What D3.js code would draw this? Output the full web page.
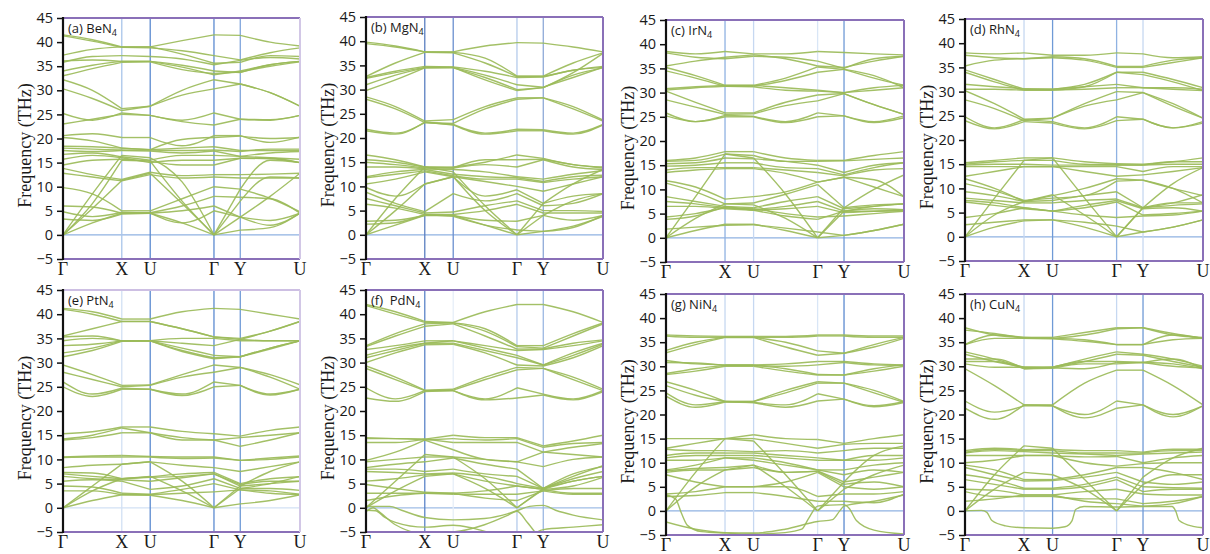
<!DOCTYPE html>
<html>
<head>
<meta charset="utf-8">
<script src="https://cdn.jsdelivr.net/npm/d3@7"></script>
<style>
  body { margin: 0; background: #fff; }
  svg { display: block; }
</style>
</head>
<body>
<svg id="chart" width="1210" height="554"></svg>
<script>
// High-symmetry path Γ–X–U–Γ–Y–U (normalised path length)
const kLabels = ["Γ", "X", "U", "Γ", "Y", "U"];
const kNodes = [0, 0.248, 0.368, 0.637, 0.748, 1.0];
// sample points of every band: Γ, mid Γ-X, X, U, mid U-Γ, Γ, Y, mid Y-U, U
const kKnots = [0, 0.124, 0.248, 0.368, 0.5025, 0.637, 0.748, 0.874, 1.0];
const yTicks = [-5, 0, 5, 10, 15, 20, 25, 30, 35, 40, 45];

// phonon frequencies (THz) at kKnots
const bandsBeN4 = [
  [41.5,40.5,39.0,39.0,40.3,41.5,41.4,40.0,39.2],
  [41.3,40.2,38.9,38.8,38.2,37.2,36.3,37.8,38.8],
  [37.3,38.5,39.0,39.0,37.5,35.6,35.8,37.2,37.0],
  [35.8,37.0,37.2,37.0,36.5,35.3,36.2,36.8,36.5],
  [36.1,36.3,36.0,36.0,35.2,34.0,33.7,35.3,36.0],
  [34.0,35.2,36.0,36.0,34.8,33.2,34.0,35.3,36.0],
  [33.0,34.5,35.8,35.9,34.3,33.5,33.8,35.0,35.9],
  [32.2,30.0,26.2,26.7,30.0,32.2,31.3,29.5,26.7],
  [30.3,28.3,25.8,26.7,29.0,30.3,31.3,29.5,26.7],
  [25.2,23.8,25.3,24.8,23.8,25.3,24.0,23.8,24.8],
  [23.0,24.0,25.0,24.8,23.5,22.8,24.0,23.9,24.8],
  [20.6,21.0,20.2,20.2,18.5,20.6,20.6,19.2,20.3],
  [20.2,19.5,18.0,17.7,19.8,20.2,20.5,20.0,20.2],
  [18.4,18.3,18.0,17.7,18.0,18.3,17.5,17.5,17.5],
  [18.0,17.8,17.6,17.6,17.5,17.6,17.3,17.8,17.8],
  [17.5,17.3,17.5,17.4,17.0,17.4,16.3,17.0,17.3],
  [16.7,17.0,16.2,15.5,16.5,16.5,16.3,16.0,15.7],
  [15.7,16.5,16.0,15.0,15.5,15.5,15.9,15.8,15.0],
  [14.5,15.5,15.7,15.3,14.5,14.5,15.9,15.9,15.0],
  [13.8,12.5,11.5,13.0,12.3,12.5,12.5,12.6,12.8],
  [12.8,12.0,11.2,12.5,11.8,12.0,11.8,11.8,11.8],
  [9.8,8.5,5.0,5.0,7.5,10.0,9.5,7.6,4.8],
  [6.0,5.8,4.5,4.6,6.0,8.0,7.8,7.5,4.5],
  [4.8,3.8,4.7,4.5,5.0,6.0,3.7,2.0,4.5],
  [3.3,3.0,4.3,4.5,2.5,5.0,3.7,3.0,4.5],
  [0,8.5,16.5,16.0,11.0,0,9.5,15.5,15.0],
  [0,6.5,15.5,15.3,7.0,0,7.0,12.0,11.8],
  [0,5.5,11.3,12.8,6.5,0,3.7,8.0,12.8],
  [0,2.5,4.5,4.5,2.5,0,1.0,1.5,4.5]
];

const bandsMgN4 = [
  [39.8,39.0,37.8,37.8,39.0,39.7,39.6,38.8,37.8],
  [39.5,38.8,37.8,37.7,36.5,32.8,32.8,35.5,37.6],
  [32.7,35.5,37.7,37.6,35.5,32.7,32.7,34.0,34.8],
  [32.5,33.8,34.8,34.7,33.8,32.5,32.6,34.0,34.6],
  [32.3,33.5,34.6,34.6,33.0,31.0,30.5,32.5,34.6],
  [31.0,33.0,34.5,34.5,32.5,30.0,30.4,33.0,34.5],
  [29.8,32.0,34.5,34.6,32.0,29.8,30.4,33.5,37.5],
  [28.5,26.5,23.5,23.8,26.5,28.3,28.3,26.5,23.7],
  [28.0,26.0,23.2,23.0,26.0,28.0,28.3,26.0,23.5],
  [21.8,21.0,23.2,22.8,21.0,21.8,21.7,21.0,22.8],
  [21.5,20.8,23.3,22.7,20.8,21.5,21.5,20.8,22.7],
  [16.5,15.5,14.0,14.0,15.0,16.5,15.8,14.5,14.0],
  [15.5,15.0,14.0,13.8,15.5,15.5,15.6,14.5,13.8],
  [15.0,14.5,13.8,13.8,14.5,14.0,15.5,14.0,13.5],
  [14.0,14.0,13.6,13.5,13.0,12.0,11.5,12.5,13.3],
  [12.0,13.0,13.5,12.5,12.0,11.8,11.0,12.0,12.3],
  [11.8,12.5,13.2,12.2,11.5,11.5,10.8,11.5,12.0],
  [10.5,11.5,13.0,12.0,11.0,10.0,9.0,10.5,12.0],
  [9.8,8.0,10.5,12.0,8.0,9.3,6.5,8.0,8.5],
  [8.8,6.5,4.8,8.5,7.0,8.5,6.0,6.5,8.5],
  [7.5,6.0,4.5,4.7,6.0,7.0,5.0,5.0,4.8],
  [6.3,5.5,4.2,4.2,5.0,6.3,4.5,4.5,4.5],
  [2.8,3.0,4.0,4.0,3.0,2.8,4.0,3.0,4.0],
  [2.2,2.5,4.2,3.8,2.0,1.0,0.7,1.8,3.8],
  [0,7.5,14.0,13.0,6.0,0,6.5,10.5,13.5],
  [0,5.0,10.5,12.0,5.0,0,4.0,7.0,8.5],
  [0,2.0,4.0,4.0,2.0,0,0.7,1.5,4.0]
];

const bandsIrN4 = [
  [38.5,38.0,38.5,38.0,38.0,38.5,38.3,38.0,37.8],
  [38.2,37.3,37.0,37.5,37.3,36.5,35.0,37.0,37.5],
  [35.5,36.5,37.3,37.8,37.0,35.5,35.2,36.5,37.5],
  [35.2,33.5,31.5,31.5,33.0,35.3,34.8,33.0,31.5],
  [34.5,33.0,31.3,31.3,32.5,34.2,34.8,33.5,31.0],
  [30.8,31.2,31.5,31.5,31.0,30.5,30.0,31.0,31.5],
  [30.5,31.0,31.3,31.2,30.5,30.3,30.0,30.5,31.0],
  [30.3,28.0,25.8,25.8,28.0,29.5,29.8,27.5,25.5],
  [28.5,27.0,25.5,25.6,27.3,28.3,29.8,27.5,25.5],
  [25.8,24.0,25.3,25.1,24.0,25.8,25.2,24.0,25.2],
  [25.2,24.0,25.0,25.0,23.8,25.0,25.2,23.8,24.8],
  [16.0,16.5,17.8,17.8,16.5,16.0,16.0,17.0,17.8],
  [15.8,16.0,17.3,17.0,15.8,15.8,15.9,16.2,16.5],
  [15.3,15.5,16.5,16.3,15.8,15.0,13.5,15.0,15.5],
  [14.8,15.0,15.5,15.5,14.5,14.3,13.0,14.5,15.5],
  [14.0,14.5,14.5,14.5,14.0,13.5,12.8,14.0,14.3],
  [13.5,14.0,14.3,14.3,13.3,11.5,12.5,12.0,8.5],
  [11.8,10.5,8.0,8.5,9.5,11.5,12.5,10.5,8.5],
  [11.3,9.5,7.0,7.2,9.0,11.0,6.2,6.8,7.0],
  [8.5,7.5,6.5,6.2,7.5,8.5,6.0,6.5,7.0],
  [7.5,7.0,6.2,5.8,6.5,7.5,5.5,6.0,5.8],
  [6.5,6.5,6.0,5.7,6.0,6.5,5.2,5.5,5.6],
  [4.3,5.0,6.2,6.0,5.0,4.3,4.5,5.0,5.5],
  [3.8,4.5,6.5,5.7,4.5,3.8,5.5,5.5,5.8],
  [1.8,2.2,2.6,2.7,2.0,1.2,0.5,1.5,2.8],
  [0,8.5,17.3,16.5,9.0,0,6.2,10.0,13.0],
  [0,4.0,7.0,6.8,4.0,0,5.5,6.5,7.0],
  [0,1.5,2.8,2.8,1.5,0,0.5,1.5,2.8]
];

const bandsRhN4 = [
  [38.0,37.8,38.0,37.5,37.5,38.0,37.8,37.0,37.2],
  [37.5,37.0,36.8,37.2,36.8,35.2,35.2,36.5,37.0],
  [35.3,36.5,36.8,37.0,36.5,35.0,35.0,36.0,37.0],
  [34.5,32.5,30.5,30.5,31.5,34.0,34.0,32.5,30.8],
  [34.0,32.0,30.3,30.3,31.0,34.0,33.5,32.0,30.2],
  [31.5,31.0,30.6,30.5,31.0,31.5,30.8,30.8,30.5],
  [30.5,30.5,30.3,30.3,30.5,30.8,30.8,30.5,30.2],
  [30.2,27.5,24.3,24.5,27.5,30.0,29.8,27.5,24.5],
  [28.3,26.5,24.0,24.5,27.0,28.3,29.8,27.0,24.5],
  [24.8,22.5,24.2,23.8,22.5,24.8,24.3,22.5,23.8],
  [24.0,22.3,23.8,23.5,22.3,24.0,24.3,22.5,23.5],
  [15.3,15.8,16.3,16.3,15.5,15.1,15.0,15.5,16.3],
  [15.0,15.5,15.8,15.8,15.0,14.9,14.8,15.5,15.5],
  [14.8,15.0,15.0,14.8,14.8,14.8,14.8,15.0,15.0],
  [14.5,14.5,14.5,14.5,14.5,14.5,13.5,14.5,14.5],
  [12.5,13.5,14.5,14.5,13.5,12.5,12.8,13.5,14.3],
  [12.0,10.0,7.3,8.5,10.0,12.0,11.7,10.0,8.5],
  [11.0,9.5,7.5,8.0,8.5,11.5,11.7,10.0,7.0],
  [9.3,8.5,7.3,7.5,8.5,9.3,6.0,7.0,7.0],
  [8.0,7.5,7.0,7.0,7.5,7.8,6.0,6.5,6.8],
  [7.5,7.0,6.0,5.3,6.5,7.5,5.8,6.0,5.3],
  [7.2,6.5,5.8,5.3,6.0,7.2,4.5,4.8,5.3],
  [4.0,4.8,6.0,5.3,4.5,4.0,4.3,4.5,5.3],
  [2.5,3.0,3.5,3.5,3.0,2.2,1.0,2.0,3.5],
  [0,8.0,15.8,16.3,8.0,0,6.0,11.0,14.3],
  [0,4.5,7.3,8.7,4.5,0,6.0,7.0,8.7],
  [0,2.0,3.3,3.5,2.0,0,1.0,2.0,3.5]
];

const bandsPtN4 = [
  [41.2,40.5,39.0,39.0,40.5,41.2,41.0,40.0,39.0],
  [41.0,40.0,38.5,38.5,37.0,35.3,35.0,36.5,38.5],
  [35.5,37.0,38.5,38.5,37.0,35.3,34.8,36.5,38.5],
  [35.3,35.5,34.5,34.5,35.0,35.0,34.5,34.5,34.5],
  [34.5,35.0,34.5,34.5,34.0,33.5,34.8,34.5,34.5],
  [33.5,33.8,34.5,34.5,33.0,31.5,31.2,33.0,34.5],
  [32.0,33.0,34.5,34.5,32.5,31.0,31.2,33.0,34.5],
  [31.2,32.5,34.4,34.5,32.3,30.8,31.2,32.8,34.5],
  [29.5,27.5,25.3,25.4,27.5,29.5,29.0,27.5,25.4],
  [28.0,26.5,25.0,25.3,27.0,28.0,29.0,27.0,24.5],
  [26.0,23.5,24.7,24.5,23.5,26.0,25.3,23.5,24.5],
  [25.0,23.0,24.5,24.5,23.2,25.0,25.3,23.3,24.5],
  [15.3,15.7,16.7,16.7,15.8,15.3,14.8,16.0,16.7],
  [14.2,15.0,16.5,15.5,14.5,14.0,14.5,15.0,15.5],
  [14.0,14.5,15.5,15.5,14.0,14.0,12.7,14.0,15.5],
  [10.5,10.7,10.8,10.6,10.5,10.5,9.8,10.3,10.7],
  [10.4,10.5,10.5,10.5,10.2,10.3,9.8,10.0,10.5],
  [8.3,8.8,9.0,9.5,8.8,8.3,7.5,8.5,9.5],
  [7.3,7.2,6.0,6.4,7.0,7.3,5.0,6.0,6.4],
  [7.0,6.5,6.0,6.3,6.5,7.0,4.8,5.5,5.5],
  [6.5,6.0,5.8,5.5,6.2,7.0,4.5,5.0,5.5],
  [5.5,5.8,5.5,3.8,4.5,6.0,4.0,4.0,3.6],
  [4.5,4.3,3.0,2.8,3.8,5.0,3.7,3.5,2.8],
  [3.5,3.5,2.7,2.7,3.0,3.3,3.7,3.0,2.7],
  [0,4.5,9.0,9.5,5.5,0,4.5,7.5,9.5],
  [0,3.5,6.0,6.5,3.5,0,4.0,5.0,6.5],
  [0,1.5,2.7,2.6,1.5,0,0.8,1.5,2.7]
];

const bandsPdN4 = [
  [42.0,40.5,38.5,38.3,40.5,42.0,42.0,40.5,38.3],
  [41.8,40.0,38.3,38.2,37.0,33.5,33.5,36.0,38.2],
  [33.5,36.0,38.0,38.2,36.5,33.3,33.0,35.5,38.0],
  [33.3,35.5,37.5,38.0,35.5,32.8,32.8,34.0,34.7],
  [32.7,33.5,34.5,34.5,33.5,32.5,32.7,33.5,34.5],
  [31.5,33.0,34.0,34.5,33.0,31.5,29.5,32.0,34.0],
  [31.0,32.5,34.0,34.0,32.5,31.0,29.5,31.5,33.8],
  [30.0,32.0,33.7,33.8,32.0,29.5,29.3,31.0,33.5],
  [29.3,27.0,24.3,24.5,27.0,29.0,28.8,27.0,24.5],
  [28.8,26.5,24.2,24.3,26.5,28.5,28.8,26.5,24.2],
  [24.8,22.5,24.2,24.2,22.5,24.8,23.5,22.5,24.2],
  [22.7,22.0,24.0,24.2,22.3,22.7,23.3,22.3,24.0],
  [14.5,14.3,14.2,15.0,14.5,14.5,12.8,13.8,15.0],
  [14.3,14.3,14.0,14.3,14.0,14.3,12.5,13.3,13.5],
  [13.5,13.5,14.2,13.5,13.5,13.5,11.5,12.5,13.3],
  [9.8,11.5,14.0,12.0,10.0,9.5,11.5,11.0,10.5],
  [9.5,10.0,10.5,10.5,10.0,9.5,8.5,10.0,10.5],
  [8.3,9.0,9.5,10.3,9.0,8.0,4.0,6.5,8.7],
  [8.0,8.0,7.5,8.0,7.0,6.5,4.0,6.0,7.5],
  [7.5,7.3,7.0,7.2,6.5,5.0,4.0,5.5,6.5],
  [5.5,6.0,6.8,7.0,5.5,4.5,3.8,4.5,6.3],
  [4.8,4.0,3.2,3.0,3.5,4.5,3.8,3.0,3.0],
  [3.0,3.0,3.0,2.8,2.8,2.8,3.5,2.8,2.8],
  [1.5,2.5,3.0,3.0,2.0,1.5,3.5,4.0,4.0],
  [0,5.5,11.0,10.5,6.0,0,4.0,7.0,8.5],
  [0,3.5,6.5,7.0,4.0,0,3.8,5.5,6.5]
];
// imaginary (negative) branches given as [k, THz] pairs
const softPdN4 = [
  [[0,0.3],[0.1,0.3],[0.15,-0.5],[0.248,-2.0],[0.368,-2.5],[0.5,-2.2],[0.6,-1.2],[0.637,-0.6],[0.69,0.3],[0.748,0.5],[0.8,-0.5],[0.874,-1.5],[1.0,-2.5]],
  [[0,-0.5],[0.04,-0.6],[0.08,-2.0],[0.124,-3.0],[0.248,-4.0],[0.368,-3.6],[0.45,-4.2],[0.55,-5.5],[0.637,-6.0],[0.7,-5.5],[0.748,-4.5],[0.874,-4.0],[1.0,-3.5]],
  [[0,-0.8],[0.03,0.0],[0.06,-1.0],[0.124,-3.5],[0.248,-5.3],[0.368,-5.0],[0.5,-3.5],[0.6,-1.5],[0.637,-0.7],[0.68,-3.0],[0.72,-5.5]]
];

const bandsNiN4 = [
  [36.5,36.3,36.2,36.2,36.2,36.5,36.5,36.3,36.3],
  [36.3,36.0,36.0,36.0,36.0,36.3,36.3,36.0,36.0],
  [33.3,35.0,36.0,36.0,35.0,33.2,32.7,34.5,36.0],
  [32.8,34.5,36.0,36.0,34.0,32.3,32.7,34.0,35.8],
  [31.2,30.5,30.3,30.3,30.5,31.0,31.0,30.5,30.3],
  [30.8,30.7,30.2,30.2,30.0,30.3,30.8,30.3,30.2],
  [28.5,29.5,30.2,30.2,29.5,28.3,28.2,29.5,30.3],
  [28.3,29.0,30.0,30.0,29.0,28.2,28.2,29.0,30.0],
  [26.8,25.0,22.7,22.7,25.0,26.8,26.5,25.0,22.7],
  [26.0,24.0,22.7,22.7,24.5,26.5,26.5,24.5,22.5],
  [24.5,22.0,22.7,22.5,22.0,24.3,23.2,21.8,22.7],
  [23.8,21.5,22.6,22.5,21.5,22.8,23.2,21.6,22.5],
  [15.0,15.0,15.0,15.8,15.0,14.8,14.0,15.0,15.8],
  [13.0,14.0,15.0,15.0,14.0,13.0,13.8,14.0,14.0],
  [12.8,12.5,12.5,12.3,12.5,12.0,12.5,13.0,13.0],
  [11.5,12.0,12.0,12.0,11.5,11.0,10.5,11.5,11.5],
  [11.0,11.5,11.5,11.5,11.0,10.5,10.5,10.5,11.0],
  [10.5,10.5,11.0,11.0,10.0,8.5,8.5,9.5,10.0],
  [8.5,9.5,11.0,10.5,9.5,8.5,7.5,8.5,8.0],
  [8.3,8.8,9.0,9.5,8.0,8.3,6.0,7.0,8.0],
  [8.0,8.5,8.5,9.0,8.0,8.2,5.5,6.0,5.0],
  [7.5,6.0,5.0,5.0,6.0,8.0,5.0,4.5,5.0],
  [3.5,4.0,5.0,5.0,5.0,3.0,3.5,3.5,4.0],
  [3.0,3.2,3.8,3.8,3.0,2.0,2.0,1.7,3.5],
  [0,8.0,15.0,14.5,7.5,0,6.0,11.5,13.5],
  [0,5.0,8.5,9.5,5.0,0,4.5,7.5,9.5]
];
const softNiN4 = [
  [[0,3.3],[0.04,2.5],[0.065,-0.5],[0.09,-3.0],[0.15,-4.3],[0.248,-4.6],[0.368,-4.8],[0.5,-4.5],[0.57,-3.8],[0.6,-1.5],[0.637,1.0],[0.69,1.2],[0.748,1.3],[0.77,0.5],[0.8,-2.0],[0.874,-4.0],[1.0,-4.8]],
  [[0,-2.3],[0.124,-3.8],[0.248,-4.5],[0.368,-4.6],[0.5,-3.8],[0.637,-2.2],[0.7,-1.8],[0.73,0.0],[0.748,1.0],[0.874,2.0],[1.0,3.3]]
];

const bandsCuN4 = [
  [38.0,36.5,36.0,36.0,37.0,38.0,38.0,36.5,36.0],
  [37.5,36.8,35.8,35.8,36.5,37.8,38.0,36.8,35.8],
  [34.5,36.5,36.0,35.8,35.5,34.5,34.5,36.5,35.8],
  [34.5,35.8,35.8,35.7,35.2,34.5,34.5,35.5,35.8],
  [33.0,31.5,29.8,29.8,31.5,33.0,32.5,31.5,30.0],
  [32.5,31.0,29.8,29.8,31.0,32.5,32.3,31.0,29.8],
  [31.5,31.5,29.5,29.8,31.0,31.0,30.8,31.5,29.5],
  [31.0,31.0,29.5,29.6,30.5,30.5,30.8,30.5,29.5],
  [30.5,29.8,29.8,29.7,29.5,30.8,30.8,30.0,29.7],
  [29.5,26.0,22.0,22.0,26.5,29.2,29.2,26.0,22.0],
  [22.8,20.5,21.8,21.8,20.0,22.8,22.0,20.0,21.8],
  [21.3,19.0,22.0,21.8,19.3,21.3,22.0,19.5,21.8],
  [12.5,13.0,12.7,12.8,12.5,12.5,12.2,12.8,12.8],
  [12.2,12.8,12.5,12.5,12.0,12.0,12.0,12.5,12.5],
  [12.0,12.5,12.3,12.0,11.8,11.5,11.8,12.0,12.2],
  [11.5,11.5,11.5,11.5,11.2,11.3,10.0,11.0,11.5],
  [10.0,10.5,11.5,11.5,10.0,9.3,9.8,10.0,10.0],
  [9.5,8.5,6.5,6.5,7.5,9.0,9.0,8.0,6.5],
  [9.0,7.5,6.2,6.3,7.0,8.0,6.0,5.5,6.0],
  [7.5,6.5,4.7,4.7,5.5,7.0,5.0,4.8,4.7],
  [6.5,5.5,4.5,4.5,5.0,6.5,4.0,4.5,4.5],
  [4.5,4.3,3.3,3.3,4.0,4.5,3.5,3.3,3.3],
  [4.0,3.0,3.0,3.0,2.5,2.5,1.5,2.0,3.0],
  [2.0,2.5,3.3,3.3,2.0,1.5,1.0,1.5,3.0],
  [0,7.5,13.5,13.0,6.5,0,7.0,11.0,13.0],
  [0,4.5,8.0,7.5,4.5,0,5.5,7.5,7.5]
];
const softCuN4 = [
  [[0,0],[0.07,0.1],[0.092,-0.3],[0.113,-2.0],[0.17,-3.1],[0.248,-3.5],[0.368,-3.6],[0.42,-3.3],[0.45,-2.0],[0.465,0.3],[0.5,0.9],[0.637,0.8],[0.748,0.9],[0.87,0.9],[0.885,0.0],[0.9,-2.0],[0.958,-3.2],[1.0,-3.5]]
];

// panel layout and styling
const panels = [
  {tag: "(a) ", metal: "Be", bands: bandsBeN4, soft: [], box: [63, 18, 300, 259],
   vcol: ["#a9c5ea", "#5b8ad0", "#5b8ad0", "#7fa5dc"], zero: "#8fb2e2", top: "#8a70b8", right: "#d2c7e6"},
  {tag: "(b) ", metal: "Mg", bands: bandsMgN4, soft: [], box: [366, 17, 603, 259],
   vcol: ["#5a7ec0", "#6a8fcf", "#b5cbeb", "#8ea9d8"], zero: "#8fb2e2", top: "#8a70b8", right: "#8a70b8"},
  {tag: "(c) ", metal: "Ir", bands: bandsIrN4, soft: [], box: [666, 20, 904, 262],
   vcol: ["#8fb2e2", "#c6d8f1", "#d9e6f6", "#6f9ad6"], zero: "#8fb2e2", top: "#8a70b8", right: "#8a70b8"},
  {tag: "(d) ", metal: "Rh", bands: bandsRhN4, soft: [], box: [965, 19, 1203, 261],
   vcol: ["#c6d8f1", "#6f9ad6", "#8fb2e2", "#c6d8f1"], zero: "#8fb2e2", top: "#8a70b8", right: "#8a70b8"},
  {tag: "(e) ", metal: "Pt", bands: bandsPtN4, soft: [], box: [63, 290, 300, 532],
   vcol: ["#d2e1f4", "#5b8ad0", "#5b8ad0", "#6f9ad6"], zero: "#d2e1f4", top: "#cdbfe3", right: "#d2c7e6"},
  {tag: "(f)\u00a0 ", metal: "Pd", bands: bandsPdN4, soft: softPdN4, box: [366, 290, 603, 532],
   vcol: ["#5b84c8", "#e6eef9", "#b5cbeb", "#9bb7e2"], zero: "#9fbde6", top: "#8a70b8", right: "#8a70b8"},
  {tag: "(g) ", metal: "Ni", bands: bandsNiN4, soft: softNiN4, box: [666, 294, 904, 535],
   vcol: ["#c6d8f1", "#c6d8f1", "#d9e6f6", "#5b8ad0"], zero: "#8fb2e2", top: "#8a70b8", right: "#8a70b8"},
  {tag: "(h) ", metal: "Cu", bands: bandsCuN4, soft: softCuN4, box: [965, 294, 1203, 535],
   vcol: ["#c6d8f1", "#6f9ad6", "#c6d8f1", "#6f9ad6"], zero: "#8fb2e2", top: "#8a70b8", right: "#8a70b8"}
];

// knot indices of each straight path segment between high-symmetry points
const segments = [[0, 1, 2], [2, 3], [3, 4, 5], [5, 6], [6, 7, 8]];

const svg = d3.select("#chart");
const defs = svg.append("defs");

panels.forEach((p, i) => {
  const [x0, y0, x1, y1] = p.box;
  const x = d3.scaleLinear().domain([0, 1]).range([x0, x1]);
  const y = d3.scaleLinear().domain([-5, 45]).range([y1, y0]);
  const g = svg.append("g");

  defs.append("clipPath").attr("id", "clip" + i)
    .append("rect").attr("x", x0).attr("y", y0).attr("width", x1 - x0).attr("height", y1 - y0);

  // zero-frequency reference line
  g.append("line")
    .attr("x1", x0).attr("x2", x1).attr("y1", y(0)).attr("y2", y(0))
    .attr("stroke", p.zero).attr("stroke-width", 1.2);

  // high-symmetry point markers
  kNodes.slice(1, 5).forEach((k, j) => {
    g.append("line")
      .attr("x1", x(k)).attr("x2", x(k)).attr("y1", y0).attr("y2", y1)
      .attr("stroke", p.vcol[j]).attr("stroke-width", 1.3);
  });

  // dispersion curves
  const line = d3.line().x(d => x(d[0])).y(d => y(d[1])).curve(d3.curveMonotoneX);
  const bg = g.append("g").attr("clip-path", `url(#clip${i})`)
    .attr("fill", "none").attr("stroke", "#9bbb59").attr("stroke-width", 1.4)
    .attr("stroke-opacity", 0.92);
  p.bands.forEach(b => {
    segments.forEach(s => {
      bg.append("path").attr("d", line(s.map(j => [kKnots[j], b[j]])));
    });
  });
  p.soft.forEach(s => bg.append("path").attr("d", line(s)));

  // frame
  g.append("line").attr("x1", x0).attr("x2", x1).attr("y1", y0).attr("y2", y0)
    .attr("stroke", p.top).attr("stroke-width", 1.8);
  g.append("line").attr("x1", x0).attr("x2", x1).attr("y1", y1).attr("y2", y1)
    .attr("stroke", "#8a70b8").attr("stroke-width", 1.8);
  g.append("line").attr("x1", x1).attr("x2", x1).attr("y1", y0).attr("y2", y1)
    .attr("stroke", p.right).attr("stroke-width", 2);

  // frequency axis
  const axis = d3.axisLeft(y).tickValues(yTicks).tickSize(6).tickPadding(4).tickFormat(d3.format("d"));
  const ag = g.append("g").attr("transform", `translate(${x0},0)`).call(axis);
  ag.select(".domain").attr("stroke", "#111").attr("stroke-width", 2.2)
    .attr("d", `M0,${y1 + 1}V${y0 - 1}`);
  ag.selectAll(".tick line").attr("stroke", "#111").attr("stroke-width", 1.5);
  ag.selectAll(".tick text")
    .attr("font-family", "'Open Sans', 'Noto Sans', sans-serif")
    .attr("font-size", 14.5).attr("fill", "#1a1a1a");

  g.append("text")
    .attr("transform", `translate(${x0 - 32},${(y0 + y1) / 2 + 7}) rotate(-90)`)
    .attr("text-anchor", "middle")
    .attr("font-family", "'Liberation Serif', 'DejaVu Serif', serif")
    .attr("font-size", 18).attr("fill", "#1a1a1a")
    .text("Frequency (THz)");

  // k-path labels
  kNodes.forEach((k, j) => {
    g.append("text")
      .attr("x", x(k)).attr("y", y1 + 16)
      .attr("text-anchor", "middle")
      .attr("font-family", "'Liberation Serif', 'DejaVu Serif', serif")
      .attr("font-size", 18).attr("fill", "#1a1a1a")
      .text(kLabels[j]);
  });

  // panel title, e.g. (a) BeN₄
  const t = g.append("text")
    .attr("x", x0 + 5).attr("y", y0 + 15)
    .attr("font-family", "'Open Sans', 'Noto Sans', sans-serif")
    .attr("font-size", 13).attr("fill", "#1a1a1a")
    .attr("xml:space", "preserve");
  t.append("tspan").text(p.tag + p.metal + "N");
  t.append("tspan").attr("font-size", 9).attr("dy", 3).text("4");
});
</script>
</body>
</html>
